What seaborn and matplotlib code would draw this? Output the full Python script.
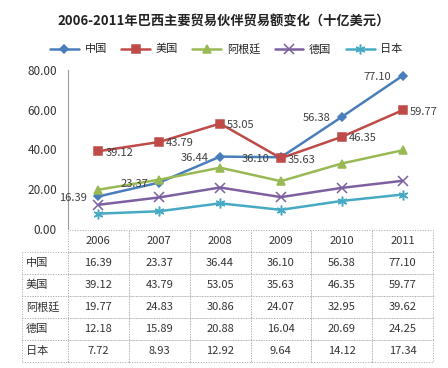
import matplotlib
matplotlib.use("Agg")
import matplotlib.pyplot as plt
import pandas as pd
import seaborn as sns

# data (billion USD)
years = ["2006", "2007", "2008", "2009", "2010", "2011"]
countries = ["中国", "美国", "阿根廷", "德国", "日本"]
china = [16.39, 23.37, 36.44, 36.10, 56.38, 77.10]
usa = [39.12, 43.79, 53.05, 35.63, 46.35, 59.77]
argentina = [19.77, 24.83, 30.86, 24.07, 32.95, 39.62]
germany = [12.18, 15.89, 20.88, 16.04, 20.69, 24.25]
japan = [7.72, 8.93, 12.92, 9.64, 14.12, 17.34]
yticks = [0, 20, 40, 60, 80]

series = [china, usa, argentina, germany, japan]
colors = ["#4A7EBB", "#BE4B48", "#98B954", "#7D60A0", "#46AAC5"]
markers = ["D", "s", "^", "x", (6, 2, 0)]
msizes = [4.5, 5.5, 6, 6.5, 7]

rows = []
for name, vals in zip(countries, series):
    for i, v in enumerate(vals):
        rows.append({"country": name, "idx": i, "value": v})
df = pd.DataFrame(rows)

sns.set_theme(style="white")
plt.rcParams["font.family"] = ["Noto Sans CJK SC", "DejaVu Sans"]

fig = plt.figure(figsize=(4.48, 3.68), dpi=100)
ax = fig.add_axes([68 / 448, 1 - 229 / 368, 365 / 448, 159 / 368])

for name, col, mk, ms in zip(countries, colors, markers, msizes):
    sns.lineplot(
        data=df[df["country"] == name], x="idx", y="value",
        color=col, marker=mk, markersize=ms, linewidth=1.8,
        markeredgecolor=col, markeredgewidth=1.1, label=name, ax=ax,
    )

# data labels for China (left of point) and USA (right of point)
for i, v in enumerate(china):
    ax.annotate(f"{v:.2f}", (i, v), xytext=(-8, -1), textcoords="offset points",
                ha="right", va="center", fontsize=8, color="#404040")
for i, v in enumerate(usa):
    ax.annotate(f"{v:.2f}", (i, v), xytext=(5, -1), textcoords="offset points",
                ha="left", va="center", fontsize=8, color="#404040")

ax.set_xlim(-0.5, 5.5)
ax.set_ylim(0, 80)
ax.set_yticks(yticks)
ax.set_yticklabels([f"{t:.2f}" for t in yticks], fontsize=8.5, color="#333333")
ax.set_xticks([])
ax.set_xlabel("")
ax.set_ylabel("")
ax.tick_params(axis="y", length=0, pad=8)
for s in ["top", "right", "bottom"]:
    ax.spines[s].set_visible(False)
ax.spines["left"].set_color("#9a9a9a")
ax.spines["left"].set_linewidth(0.8)

handles, labels = ax.get_legend_handles_labels()
ax.legend_.remove()
fig.legend(handles, labels, loc="center", bbox_to_anchor=(0.505, 1 - 49 / 368),
           ncol=5, frameon=False, fontsize=8, handlelength=2.6,
           columnspacing=1.3, handletextpad=0.5)

fig.text(0.5, 1 - 22 / 368, "2006-2011年巴西主要贸易伙伴贸易额变化（十亿美元）",
         ha="center", va="center", fontsize=9.5, fontweight="bold", color="#222222")

# data table under the plot
cell_text = [[""] + years]
for name, vals in zip(countries, series):
    cell_text.append([name] + [f"{v:.2f}" for v in vals])
lab_w = 46 / 365
col_w = [lab_w] + [1 / 6] * 6
tbl = ax.table(cellText=cell_text, colWidths=col_w, cellLoc="center",
               bbox=[-lab_w, -(362 - 229) / 159, 1 + lab_w, (362 - 230) / 159])
tbl.auto_set_font_size(False)
tbl.set_fontsize(8)
for (r, c), cell in tbl.get_celld().items():
    cell.set_edgecolor("#a8a8a8")
    cell.set_linewidth(0.7)
    cell.set_linestyle(":")
    cell.get_text().set_color("#333333")
    if c == 0:
        cell.get_text().set_ha("left")
        cell.PAD = 0.08
    if r == 0 and c == 0:
        cell.visible_edges = ""

fig.savefig("out.png", dpi=100)
